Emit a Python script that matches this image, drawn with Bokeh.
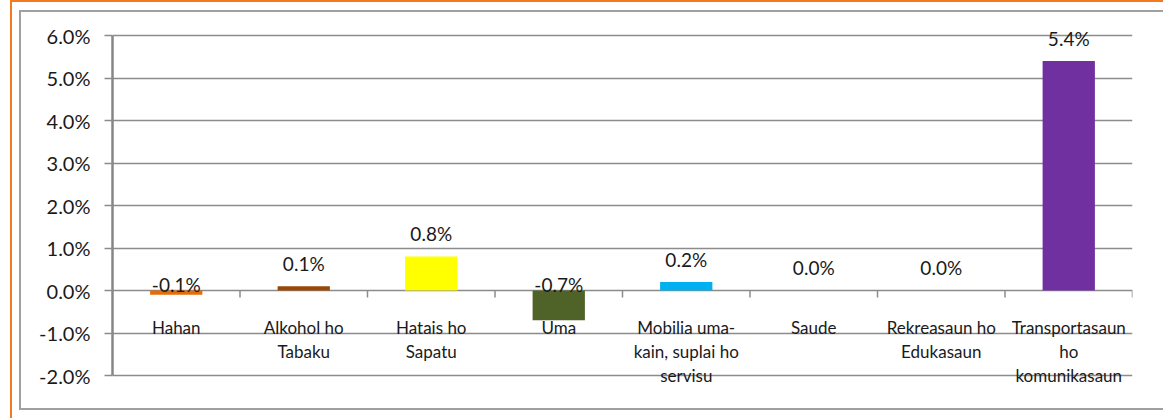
from bokeh.plotting import figure
from bokeh.layouts import column
from bokeh.models import (ColumnDataSource, FactorRange, Range1d, NumeralTickFormatter,
                          FixedTicker)
from bokeh.transform import dodge
from bokeh.core.properties import value
from bokeh.embed import file_html
from bokeh.resources import INLINE

# ---- data ----
categories = [
    "Hahan",
    "Alkohol ho\nTabaku",
    "Hatais ho\nSapatu",
    "Uma",
    "Mobilia uma-\nkain, suplai ho\nservisu",
    "Saude",
    "Rekreasaun ho\nEdukasaun",
    "Transportasaun\nho\nkomunikasaun",
]
changes_pct = [-0.1, 0.1, 0.8, -0.7, 0.2, 0.0, 0.0, 5.4]
bar_colors = ["#E46C0A", "#984807", "#FFFF00", "#4F6228", "#00B0F0", "#C0504D", "#8064A2", "#7030A0"]
y_ticks_pct = [-2, -1, 0, 1, 2, 3, 4, 5, 6]

# ---- derived ----
factors = [c.replace("\n", " ") for c in categories]
vals = [v / 100.0 for v in changes_pct]
y_lo, y_hi = y_ticks_pct[0] / 100.0, y_ticks_pct[-1] / 100.0

TEXT = "#1A1A1A"
GRID = "#8C8C8C"
FONT = "Lato"

# geometry of the figure content box (inside the chart borders)
FIG_W, FIG_H = 1142, 396
ML, MR = 91, 31
PAD_TOP, PAD_BOT = 23, 33          # room above 6% / below -2% inside the frame
span = y_hi - y_lo
plot_px = FIG_H - PAD_TOP - PAD_BOT
per_px = span / plot_px

p = figure(width=FIG_W, height=FIG_H,
           x_range=FactorRange(factors=factors),
           y_range=Range1d(y_lo - PAD_BOT * per_px, y_hi + PAD_TOP * per_px),
           output_backend="svg", toolbar_location=None,
           min_border_left=ML, min_border_right=MR,
           min_border_top=0, min_border_bottom=0)
p.outline_line_color = None
p.background_fill_color = "white"
p.border_fill_color = "white"

p.xaxis.visible = False
p.xgrid.visible = False
p.ygrid.grid_line_color = GRID
p.ygrid.grid_line_width = 1.5
p.ygrid.ticker = FixedTicker(ticks=[t / 100.0 for t in y_ticks_pct])

ax = p.yaxis[0]
ax.ticker = FixedTicker(ticks=[t / 100.0 for t in y_ticks_pct])
ax.bounds = (y_lo, y_hi)
ax.formatter = NumeralTickFormatter(format="0.0%")
ax.axis_line_color = "#868686"
ax.axis_line_width = 2.5
ax.major_tick_line_color = GRID
ax.major_tick_line_width = 1.5
ax.major_tick_out = 8
ax.major_tick_in = 0
ax.minor_tick_out = 0
ax.minor_tick_in = 0
ax.major_label_text_font = FONT
ax.major_label_text_font_size = "20px"
ax.major_label_text_color = TEXT
ax.major_label_standoff = 14

src = ColumnDataSource(dict(
    cat=factors, val=vals, color=bar_colors,
    label=[f"{v:.1f}%" for v in changes_pct],
    label_y=[max(v, 0.0) for v in vals],
    label_dy=[-23 if v >= 0 else -6 for v in changes_pct],
    tick_y=[-7 * per_px] * len(factors),
))

p.vbar(x="cat", top="val", bottom=0, width=0.41, fill_color="color",
       line_color=None, source=src)

# category boundary tick marks on the zero line
p.segment(x0=dodge("cat", 0.5, range=p.x_range), y0=0,
          x1=dodge("cat", 0.5, range=p.x_range), y1="tick_y",
          line_color=GRID, line_width=1.5, source=src)

# data labels
p.text(x="cat", y="label_y", text="label", y_offset="label_dy",
       text_align="center", text_baseline="middle",
       text_font=value(FONT), text_font_size="19px", text_color=TEXT,
       source=src)

# category labels (multi-line)
lc, lt, ld = [], [], []
for f, c in zip(factors, categories):
    for k, line in enumerate(c.split("\n")):
        lc.append(f)
        lt.append(line)
        ld.append(37 + 24 * k)
lsrc = ColumnDataSource(dict(cat=lc, text=lt, dy=ld, y=[0.0] * len(lc)))
p.text(x="cat", y="y", text="text", y_offset="dy",
       text_align="center", text_baseline="middle",
       text_font=value(FONT), text_font_size="17px", text_color=TEXT,
       source=lsrc)

# chart borders: gray chart-area border and orange outer frame
inner = column(p, styles={"border-left": "2px solid #A0A0A0",
                          "border-top": "2px solid #A0A0A0",
                          "border-bottom": "2px solid #A0A0A0"})
outer = column(inner, styles={"margin-left": "10px",
                              "border-left": "2px solid #F57A1F",
                              "border-top": "2px solid #F57A1F",
                              "padding-left": "7px", "padding-top": "8px",
                              "padding-bottom": "8px"})

open("out.html", "w").write(file_html(outer, INLINE))
